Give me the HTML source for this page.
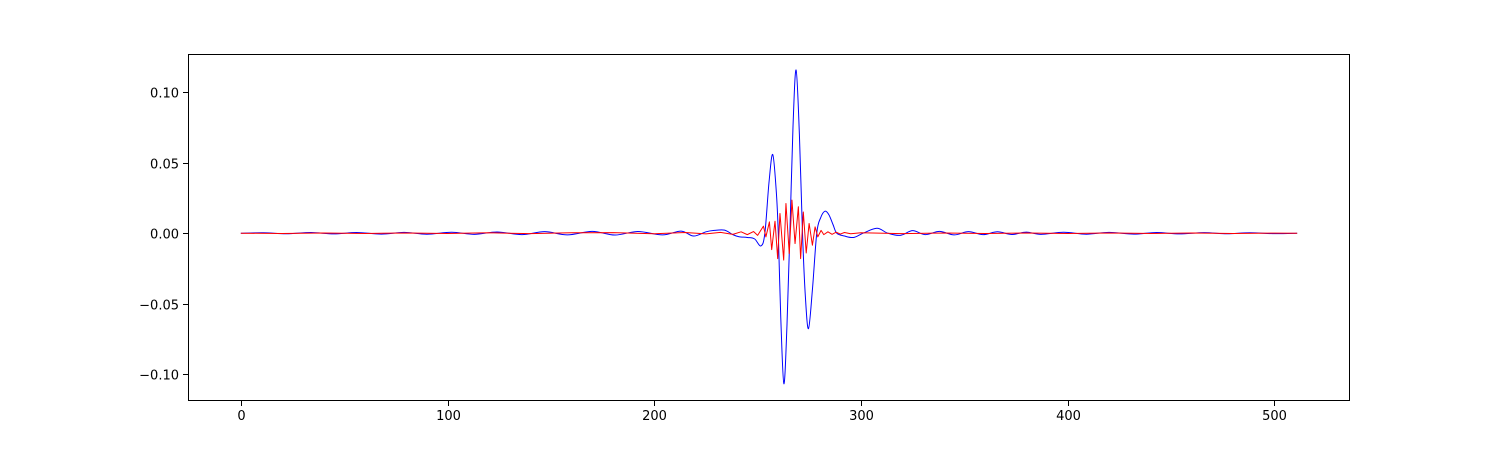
<!DOCTYPE html>
<html><head><meta charset="utf-8"><style>
html,body{margin:0;padding:0;background:#fff;}
svg{display:block;font-family:"DejaVu Sans","Liberation Sans",sans-serif;}
</style></head><body>
<svg id="chart" width="1500" height="450">
<rect x="0" y="0" width="1500" height="450" fill="#fff"/>
<g id="plot"></g>
<g id="axes"></g>
</svg>
<script>
const blueX = [0,11,22,34,45,56,68,79,90,102,113,124,136,147,158,170,181,192,204,213,219,225,229,234,238,241,245,248.5,251.6,253.5,255.5,257.3,259,260,261.2,262.7,264.2,265.6,267.1,268.6,270.2,271.7,273.1,274.6,276.5,278.6,280.5,282.6,284.5,286.5,288.3,292,296.4,301,307.7,313,319,325,331,338,345,352,359,366,373,380,387,398,409,420,432,443,454,466,477,488,500,511];
const blueY = [0,0.0003,-0.0004,0.0005,-0.0005,0.0005,-0.0006,0.0006,-0.0007,0.0007,-0.0008,0.0009,-0.001,0.0011,-0.0012,0.0013,-0.0013,0.0012,-0.0012,0.0015,-0.002,0.001,0.002,0.0022,-0.001,-0.0025,-0.003,-0.004,-0.009,0,0.036,0.0558,0.03,0,-0.06,-0.1066,-0.065,0,0.075,0.1156,0.07,0,-0.045,-0.0676,-0.04,0,0.011,0.0156,0.013,0.006,0,-0.002,-0.003,0,0.0035,0,-0.0015,0.0018,-0.001,0.0013,-0.0012,0.0011,-0.001,0.001,-0.0009,0.0008,-0.0008,0.0007,-0.0007,0.0006,-0.0006,0.0005,-0.0005,0.0004,-0.0004,0.0003,-0.0003,0];
const redX = [0,20,40,60,80,100,120,140,160,180,200,215,225,232,238,242,245,248,250,252.8,254.0,255.7,256.8,258.4,259.7,260.8,262.6,263.7,265.3,266.6,268.1,269.7,270.8,272.1,273.5,274.9,276.5,277.8,279.1,280.7,282,284,286,288,290,292,295,300,320,340,360,380,400,420,440,460,480,500,511];
const redY = [0,-0.0002,0.0002,-0.0002,0.0002,-0.0002,0.0003,-0.0003,0.0003,0.0004,-0.0004,0.0005,-0.0005,0.0006,-0.0008,0.001,-0.001,0.0012,-0.0015,0.005,-0.0026,0.008,-0.0116,0.0085,-0.018,0.014,-0.019,0.021,-0.0144,0.0234,-0.0073,0.0187,-0.018,0.015,-0.014,0.0069,-0.0085,0.0045,-0.0026,0.002,-0.001,0.001,-0.0008,0.0007,-0.0006,0.0005,-0.0004,0.0003,-0.0003,0.0002,-0.0002,0.0002,-0.0002,0.0002,-0.0002,0.0002,-0.0002,0.0001,0];
const xTicks = [0,100,200,300,400,500];
const yTicks = [-0.10,-0.05,0.00,0.05,0.10];
const yTickLabels = ["−0.10","−0.05","0.00","0.05","0.10"];

const L=188,R=1350,T=54,B=401;
const xMin=-25.55,xMax=536.55,yMin=-0.1188,yMax=0.1269;
const sx=v=>L+(v-xMin)/(xMax-xMin)*(R-L);
const sy=v=>B-(v-yMin)/(yMax-yMin)*(B-T);
const NS="http://www.w3.org/2000/svg";
const plot=document.getElementById('plot'), axes=document.getElementById('axes');
function mk(tag,attrs,parent){const e=document.createElementNS(NS,tag);for(const k in attrs)e.setAttribute(k,attrs[k]);parent.appendChild(e);return e;}
function smoothPath(xs,ys){
  const p=xs.map((x,i)=>[sx(x),sy(ys[i])]);
  let d='M'+p[0][0].toFixed(2)+','+p[0][1].toFixed(2);
  for(let i=0;i<p.length-1;i++){
    const p0=p[Math.max(0,i-1)],p1=p[i],p2=p[i+1],p3=p[Math.min(p.length-1,i+2)];
    const c1=[p1[0]+(p2[0]-p0[0])/6,p1[1]+(p2[1]-p0[1])/6];
    const c2=[p2[0]-(p3[0]-p1[0])/6,p2[1]-(p3[1]-p1[1])/6];
    d+=' C'+c1.map(v=>v.toFixed(2)).join(',')+' '+c2.map(v=>v.toFixed(2)).join(',')+' '+p2.map(v=>v.toFixed(2)).join(',');
  }
  return d;
}

const bl=mk('path',{d:smoothPath(blueX,blueY),fill:'none',stroke:'#0000ff','stroke-width':1,'stroke-linejoin':'round'},plot);


const rl=mk('polyline',{points:redX.map((x,i)=>sx(x).toFixed(2)+','+sy(redY[i]).toFixed(2)).join(' '),fill:'none',stroke:'#ff0000','stroke-width':1,'stroke-linejoin':'round'},plot);



const fr=mk('rect',{x:L+0.5,y:T+0.5,width:R-L-1,height:B-T-1,fill:'none',stroke:'#000','stroke-width':1},axes);


xTicks.forEach(v=>{
  const x=Math.round(sx(v))+0.5;
  const t=mk('line',{x1:x,x2:x,y1:B,y2:B+5,stroke:'#000','stroke-width':1},axes);
  
  
  const tx=mk('text',{x:x,y:B+19,'font-size':13,'text-anchor':'middle',fill:'#000'},axes);
  tx.textContent=String(v);
  
  
});
yTicks.forEach((v,i)=>{
  const y=Math.round(sy(v))+0.5;
  const t=mk('line',{x1:L-5,x2:L,y1:y,y2:y,stroke:'#000','stroke-width':1},axes);
  
  
  const tx=mk('text',{x:L-9,y:y+5,'font-size':13,'text-anchor':'end',fill:'#000'},axes);
  tx.textContent=yTickLabels[i];
  
  
});
</script>
</body></html>
